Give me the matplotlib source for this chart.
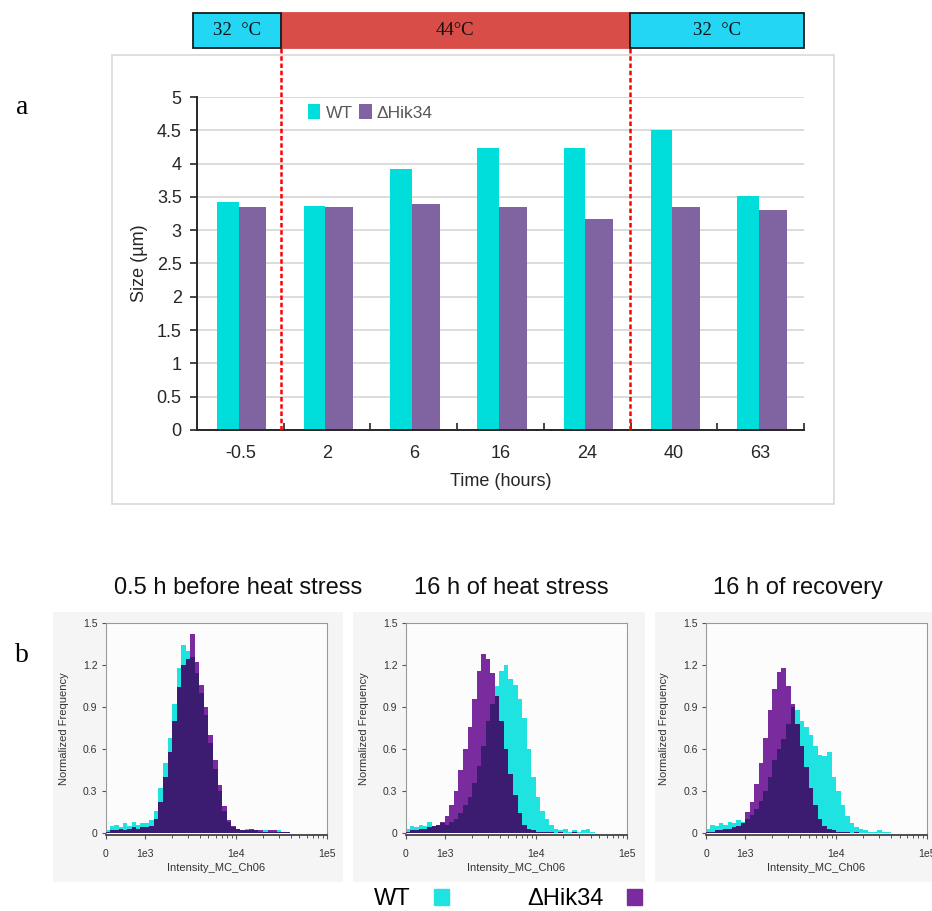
import matplotlib
matplotlib.use("Agg")
import matplotlib.pyplot as plt
from matplotlib.patches import Rectangle, Patch
from matplotlib.ticker import FuncFormatter
import numpy as np

plt.rcParams['font.family'] = ['Liberation Sans', 'DejaVu Sans']

# ---------------- data: panel a ----------------
times = ["-0.5", "2", "6", "16", "24", "40", "63"]
wt_size = [3.42, 3.37, 3.92, 4.23, 4.23, 4.50, 3.51]
hik_size = [3.35, 3.35, 3.40, 3.35, 3.17, 3.35, 3.30]
series_names = ["WT", "\u0394Hik34"]
phase_labels = ["32  \u00b0C", "44\u00b0C", "32  \u00b0C"]
heat_start, heat_end = 0.47, 4.49   # dashed-line positions (category units)

# ---------------- data: panel b (normalized frequency per bin) ----------------
# 9 linear bins 0..1e3, then 40 log bins (0.05 decade) 1e3..1e5
panel_titles = ["0.5 h before heat stress", "16 h of heat stress", "16 h of recovery"]
wt_before = [0.02, 0.05, 0.06, 0.04, 0.07, 0.05, 0.08, 0.06, 0.07,
             0.07, 0.09, 0.16, 0.32, 0.50, 0.68, 0.92, 1.18, 1.34, 1.30,
             1.26, 1.14, 1.00, 0.84, 0.64, 0.46, 0.30, 0.16, 0.08, 0.04,
             0.03, 0.02, 0.03, 0.02, 0.02, 0.01, 0.02, 0.01, 0.01, 0.02,
             0.01, 0.01, 0.0, 0.0, 0.0, 0.0, 0.0, 0.0, 0.0, 0.0]
hik_before = [0.01, 0.02, 0.02, 0.03, 0.02, 0.03, 0.04, 0.03, 0.04,
              0.04, 0.05, 0.10, 0.22, 0.40, 0.58, 0.80, 1.04, 1.20, 1.24,
              1.42, 1.22, 1.06, 0.90, 0.70, 0.52, 0.34, 0.19, 0.09, 0.05,
              0.03, 0.02, 0.02, 0.03, 0.02, 0.02, 0.01, 0.02, 0.02, 0.01,
              0.01, 0.01, 0.0, 0.0, 0.0, 0.0, 0.0, 0.0, 0.0, 0.0]
wt_heat = [0.03, 0.05, 0.04, 0.06, 0.05, 0.08, 0.05, 0.06, 0.07,
           0.06, 0.08, 0.10, 0.14, 0.20, 0.26, 0.36, 0.48, 0.62, 0.80,
           0.92, 1.05, 1.16, 1.20, 1.10, 1.06, 0.96, 0.82, 0.60, 0.40,
           0.26, 0.16, 0.10, 0.06, 0.03, 0.02, 0.03, 0.01, 0.02, 0.01,
           0.02, 0.03, 0.01, 0.0, 0.0, 0.0, 0.0, 0.0, 0.0, 0.0]
hik_heat = [0.01, 0.02, 0.02, 0.03, 0.03, 0.04, 0.05, 0.06, 0.08,
            0.12, 0.20, 0.30, 0.45, 0.60, 0.76, 0.96, 1.16, 1.28, 1.24,
            1.14, 0.98, 0.80, 0.60, 0.42, 0.27, 0.14, 0.06, 0.03, 0.02,
            0.01, 0.01, 0.01, 0.01, 0.0, 0.01, 0.0, 0.0, 0.01, 0.0,
            0.0, 0.0, 0.0, 0.0, 0.0, 0.0, 0.0, 0.0, 0.0, 0.0]
wt_rec = [0.03, 0.06, 0.05, 0.07, 0.06, 0.08, 0.07, 0.09, 0.08,
          0.10, 0.13, 0.17, 0.23, 0.30, 0.40, 0.52, 0.60, 0.67, 0.78,
          0.90, 0.88, 0.80, 0.76, 0.70, 0.62, 0.56, 0.55, 0.58, 0.40,
          0.30, 0.20, 0.12, 0.07, 0.04, 0.03, 0.02, 0.01, 0.01, 0.02,
          0.01, 0.01, 0.0, 0.0, 0.0, 0.0, 0.0, 0.0, 0.0, 0.0]
hik_rec = [0.01, 0.01, 0.02, 0.02, 0.03, 0.03, 0.04, 0.05, 0.07,
           0.15, 0.22, 0.35, 0.50, 0.68, 0.88, 1.03, 1.15, 1.18, 1.05,
           0.92, 0.78, 0.62, 0.47, 0.32, 0.20, 0.10, 0.05, 0.03, 0.02,
           0.01, 0.01, 0.01, 0.0, 0.01, 0.0, 0.0, 0.0, 0.0, 0.0,
           0.0, 0.0, 0.0, 0.0, 0.0, 0.0, 0.0, 0.0, 0.0, 0.0]
hist_x_ticks = [0, 1e3, 1e4, 1e5]
hist_x_labels = ["0", "1e3", "1e4", "1e5"]

# ---------------- styling ----------------
W, H = 932, 911
def fx(px): return px / W
def fy(py): return 1 - py / H

C_WT = "#00DEDB"
C_HIK = "#8064A2"
H_WT = "#1EE3E0"
H_HIK = "#7A2C9E"
H_BOTH = "#3B1C70"

fig = plt.figure(figsize=(W / 100, H / 100), dpi=100)

# panel a frame
fig.patches.append(Rectangle((fx(112), fy(504)), fx(834) - fx(112), fy(55) - fy(504),
                             transform=fig.transFigure, fill=False,
                             edgecolor="#D9D9D9", lw=1.2, zorder=-5))

ax = fig.add_axes([fx(197), fy(430), fx(804) - fx(197), fy(97) - fy(430)])
ax.patch.set_alpha(0)
x = np.arange(len(times))
ax.bar(x - 0.27, wt_size, width=0.25, align="edge", color=C_WT, label=series_names[0], zorder=2)
ax.bar(x - 0.02, hik_size, width=0.32, align="edge", color=C_HIK, label=series_names[1], zorder=2)
ax.set_xlim(-0.5, len(times) - 0.5)
ax.set_ylim(0, 5)
ax.set_yticks(np.arange(0, 5.01, 0.5))
ax.yaxis.set_major_formatter(FuncFormatter(lambda v, p: f"{v:g}"))
ax.yaxis.grid(True, color="#D9D9D9", lw=1.3)
ax.set_axisbelow(True)
for s in ["top", "right"]:
    ax.spines[s].set_visible(False)
for s in ["left", "bottom"]:
    ax.spines[s].set_color("#262626")
    ax.spines[s].set_linewidth(1.4)
ax.set_xticks(x)
ax.set_xticklabels(times)
ax.set_xticks(np.arange(0.5, len(times), 1), minor=True)
ax.tick_params(axis="x", which="major", length=0, pad=11, labelsize=13, labelcolor="#262626")
ax.tick_params(axis="x", which="minor", direction="in", length=5, width=1.2, color="#262626")
ax.tick_params(axis="y", direction="out", length=5, width=1.2, color="#262626",
               labelsize=13, labelcolor="#262626", pad=6)
ax.set_ylabel("Size (\u00b5m)", fontsize=13, color="#262626")
ax.yaxis.set_label_coords(-0.081, 0.5)
ax.set_xlabel("Time (hours)", fontsize=13, color="#262626")
ax.xaxis.set_label_coords(0.5, -0.13)
leg = ax.legend(loc="upper left", bbox_to_anchor=(0.183, 0.978), ncol=2, frameon=False,
                fontsize=12.5, handlelength=0.7, handleheight=0.9, handletextpad=0.3,
                columnspacing=0.4, borderaxespad=0, borderpad=0, labelcolor="#595959")

vl_top = (430 - 48) / 333
for xv in (heat_start, heat_end):
    ax.axvline(xv, ymin=0, ymax=vl_top, clip_on=False, color="#FF0000",
               ls=(0, (1.8, 1.1)), lw=1.8, zorder=3)

# temperature bar
tax = fig.add_axes([fx(197), fy(47.7), fx(804) - fx(197), fy(12.7) - fy(47.7)])
tax.set_xlim(-0.5, len(times) - 0.5)
tax.set_ylim(0, 1)
tax.axis("off")
phase_edges = [-0.546, heat_start, heat_end, len(times) - 0.5]
phase_colors = ["#22D6F4", "#D94D48", "#22D6F4"]
phase_edgec = ["#1A1A1A", "#D94D48", "#1A1A1A"]
for i in range(3):
    tax.add_patch(Rectangle((phase_edges[i], 0), phase_edges[i + 1] - phase_edges[i], 1,
                            facecolor=phase_colors[i], edgecolor=phase_edgec[i],
                            lw=1.3, clip_on=False, zorder=2 if i != 1 else 1))
    tax.text((phase_edges[i] + phase_edges[i + 1]) / 2, 0.5, phase_labels[i],
             ha="center", va="center", fontsize=13.5, family="Liberation Serif",
             color="#111111", zorder=4)

fig.text(fx(22), fy(107), "a", fontsize=20, family="Liberation Serif", ha="center", va="center")
fig.text(fx(22), fy(656), "b", fontsize=20, family="Liberation Serif", ha="center", va="center")

# ---------------- panel b ----------------
lin_edges = np.linspace(0, 1e3, 10)
log_edges = np.logspace(3, 5, 41)
edges = np.concatenate([lin_edges, log_edges[1:]])

bg_boxes = [(53, 343), (353, 645), (655, 932)]
ax_lefts = [105.7, 405.7, 706]
title_cx = [238, 511, 798]
data_sets = [(wt_before, hik_before), (wt_heat, hik_heat), (wt_rec, hik_rec)]

for i in range(3):
    b0, b1 = bg_boxes[i]
    fig.patches.append(Rectangle((fx(b0), fy(882)), fx(b1) - fx(b0), fy(612) - fy(882),
                                 transform=fig.transFigure, facecolor="#F5F5F5",
                                 edgecolor="none", zorder=-5))
    hx = fig.add_axes([fx(ax_lefts[i]), fy(835), fx(221) - fx(0), fy(623) - fy(835)])
    hx.set_facecolor("#FCFCFC")
    wt = np.array(data_sets[i][0])
    hk = np.array(data_sets[i][1])
    hx.stairs(wt, edges, fill=True, color=H_WT, zorder=2)
    hx.stairs(hk, edges, fill=True, color=H_HIK, zorder=3)
    hx.stairs(np.minimum(wt, hk), edges, fill=True, color=H_BOTH, zorder=4)
    hx.set_xscale("symlog", linthresh=1e3, linscale=0.387, base=10)
    hx.set_xlim(0, 1e5)
    hx.set_ylim(-0.014, 1.5)
    hx.set_xticks(hist_x_ticks)
    hx.set_xticklabels(hist_x_labels)
    hx.set_xticks(np.concatenate([np.arange(2, 10) * 1e3, np.arange(2, 10) * 1e4]), minor=True)
    hx.set_yticks(np.arange(0, 1.51, 0.3))
    hx.yaxis.set_major_formatter(FuncFormatter(lambda v, p: "0" if abs(v) < 1e-9 else f"{v:.1f}"))
    hx.tick_params(axis="both", which="major", length=3, width=0.8, color="#555555",
                   labelsize=7.5, labelcolor="#333333", pad=3)
    hx.tick_params(axis="x", which="major", pad=7)
    hx.tick_params(axis="x", which="minor", length=2.5, width=0.7, color="#555555")
    for s in ["top", "right", "left"]:
        hx.spines[s].set_color("#9A9A9A")
        hx.spines[s].set_linewidth(0.8)
    hx.spines["bottom"].set_color("#333333")
    hx.spines["bottom"].set_linewidth(1.2)
    hx.set_ylabel("Normalized Frequency", fontsize=8, color="#333333")
    hx.yaxis.set_label_coords(-0.166, 0.5)
    hx.set_xlabel("Intensity_MC_Ch06", fontsize=8, color="#333333")
    hx.xaxis.set_label_coords(0.5, -0.155)
    hx.xaxis.label.set_va("center")
    fig.text(fx(title_cx[i]), fy(588), panel_titles[i], fontsize=17, ha="center",
             va="center", color="#111111")

handles = [Patch(color=H_WT), Patch(color=H_HIK)]
fig.legend(handles, series_names, loc="center", bbox_to_anchor=(fx(508), fy(899)),
           ncol=2, frameon=False, markerfirst=False, fontsize=17,
           handlelength=0.65, handleheight=0.65, handletextpad=1.0, columnspacing=3.3)

fig.savefig("out.png", dpi=100)
